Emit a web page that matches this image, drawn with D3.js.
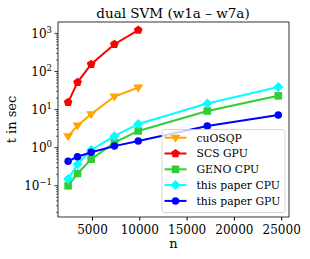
<!DOCTYPE html>
<html><head><meta charset="utf-8">
<script src="https://cdn.jsdelivr.net/npm/d3@7"></script>
<style>body{margin:0;background:#fff}svg text{font-family:"DejaVu Serif",serif}</style>
</head><body>
<script>
const nSmall = [2477, 3470, 4912, 7366, 9888];
const nAll = [2477, 3470, 4912, 7366, 9888, 17188, 24692];
const cuOSQP = [2.0, 3.8, 7.6, 22, 38];
const scsGPU = [15.5, 52, 155, 520, 1220];
const genoCPU = [0.10, 0.21, 0.50, 1.35, 2.75, 9.2, 23];
const paperCPU = [0.15, 0.37, 0.87, 2.0, 4.2, 14.4, 39];
const paperGPU = [0.44, 0.58, 0.76, 1.1, 1.5, 3.7, 7.2];
const xTicks = [5000, 10000, 15000, 20000, 25000];
const yTicks = [-1, 0, 1, 2, 3];

const series = [
  {name:"cuOSQP", x:nSmall, y:cuOSQP, color:"#FFA500", marker:"tri"},
  {name:"SCS GPU", x:nSmall, y:scsGPU, color:"#FF0000", marker:"pent"},
  {name:"GENO CPU", x:nAll, y:genoCPU, color:"#32CD32", marker:"sq"},
  {name:"this paper CPU", x:nAll, y:paperCPU, color:"#00FFFF", marker:"dia"},
  {name:"this paper GPU", x:nAll, y:paperGPU, color:"#0000FF", marker:"circ"}
];

const W=310,H=259, L=58,R=289,T=22,B=217;
const svg=d3.select("body").append("svg").attr("width",W).attr("height",H);
const x=d3.scaleLinear().domain([1406,25825]).range([L,R]);
const y=d3.scaleLog().domain([Math.pow(10,-1.82),Math.pow(10,3.30)]).range([B,T]);

function markerPath(m){
  if(m==="tri"){const s=5;return `M${-s},${-s*0.6}L${s},${-s*0.6}L0,${s*1.0}Z`;}
  if(m==="pent"){const r=4.6;let p="";for(let i=0;i<5;i++){const a=-Math.PI/2+i*2*Math.PI/5;p+=(i?"L":"M")+(r*Math.cos(a)).toFixed(2)+","+(r*Math.sin(a)).toFixed(2);}return p+"Z";}
  if(m==="sq"){const s=3.8;return `M${-s},${-s}H${s}V${s}H${-s}Z`;}
  if(m==="dia"){const s=5;return `M0,${-s}L${s},0L0,${s}L${-s},0Z`;}
  return d3.symbol(d3.symbolCircle,44)();
}

svg.append("clipPath").attr("id","c").append("rect").attr("x",L).attr("y",T).attr("width",R-L).attr("height",B-T);
const g=svg.append("g").attr("clip-path","url(#c)");
series.forEach(s=>{
  const pts=s.x.map((v,i)=>[x(v),y(s.y[i])]);
  g.append("path").attr("d",d3.line()(pts)).attr("fill","none").attr("stroke",s.color).attr("stroke-width",2);
  pts.forEach(p=>g.append("path").attr("d",markerPath(s.marker)).attr("transform",`translate(${p[0]},${p[1]})`).attr("fill",s.color));
});

const xa=svg.append("g").attr("transform",`translate(0,${B})`).call(d3.axisBottom(x).tickValues(xTicks).tickFormat(d3.format("d")).tickSize(3.5).tickSizeOuter(0));
xa.selectAll("text").attr("font-size",12).attr("fill","#000").attr("dy","0.9em");
const ya=svg.append("g").attr("transform",`translate(${L},0)`);
const minor=[];
for(let e=-2;e<=3;e++)for(let k=2;k<=9;k++){const v=k*Math.pow(10,e);if(y(v)>=T&&y(v)<=B)minor.push(v);}
ya.selectAll(".mn").data(minor).enter().append("line").attr("x1",0).attr("x2",-2).attr("y1",d=>y(d)).attr("y2",d=>y(d)).attr("stroke","#000").attr("stroke-width",0.6);
ya.selectAll(".mj").data(yTicks).enter().append("line").attr("x1",0).attr("x2",-3.5).attr("y1",d=>y(Math.pow(10,d))).attr("y2",d=>y(Math.pow(10,d))).attr("stroke","#000").attr("stroke-width",0.8);
yTicks.forEach(e=>{
  const t=ya.append("text").attr("x",-6).attr("y",y(Math.pow(10,e))+4.5).attr("text-anchor","end").attr("font-size",12);
  t.append("tspan").text("10");
  t.append("tspan").attr("dy",-5).attr("font-size",8.5).text(e<0?"\u2212"+(-e):e);
});
svg.selectAll(".domain").remove();
svg.append("rect").attr("x",L).attr("y",T).attr("width",R-L).attr("height",B-T).attr("fill","none").attr("stroke","#000").attr("stroke-width",0.8);

svg.append("text").attr("x",173).attr("y",18).attr("text-anchor","middle").attr("font-size",13.5).text("dual SVM (w1a \u2013 w7a)");
svg.append("text").attr("x",(L+R)/2).attr("y",248).attr("text-anchor","middle").attr("font-size",13).text("n");
svg.append("text").attr("transform",`translate(16,${(T+B)/2}) rotate(-90)`).attr("text-anchor","middle").attr("font-size",13).text("t in sec");

const lg=svg.append("g");
lg.append("rect").attr("x",162).attr("y",129.5).attr("width",123).attr("height",83).attr("rx",2.5).attr("fill","#fff").attr("fill-opacity",0.8).attr("stroke","#ccc").attr("stroke-width",0.8);
series.forEach((s,i)=>{
  const yy=137.7+i*15.8;
  lg.append("line").attr("x1",164.5).attr("x2",186.5).attr("y1",yy).attr("y2",yy).attr("stroke",s.color).attr("stroke-width",2);
  lg.append("path").attr("d",markerPath(s.marker)).attr("transform",`translate(175.5,${yy})`).attr("fill",s.color);
  lg.append("text").attr("x",196.5).attr("y",yy+3.9).attr("font-size",10.8).text(s.name);
});
</script>
</body></html>
